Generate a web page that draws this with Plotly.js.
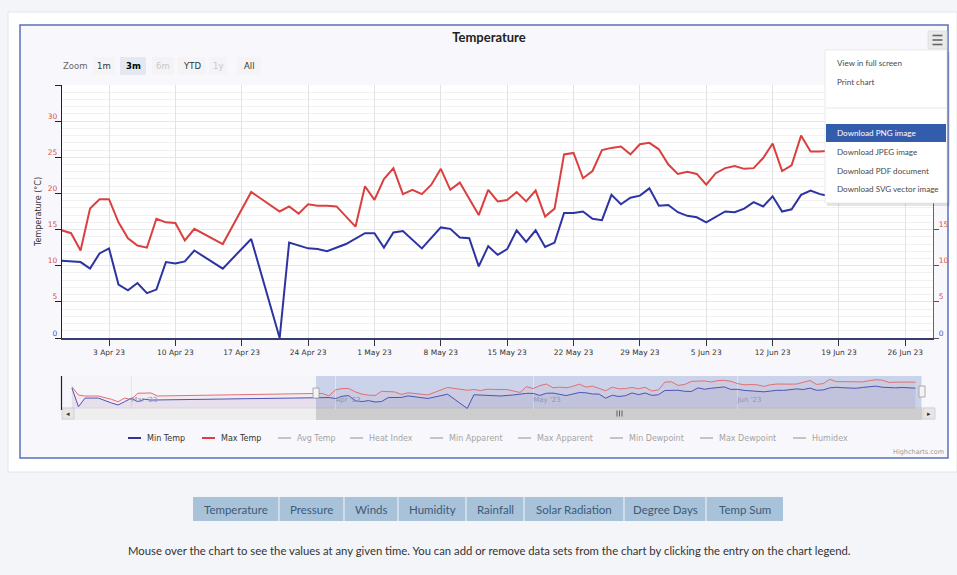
<!DOCTYPE html>
<html>
<head>
<meta charset="utf-8">
<script src="https://cdn.plot.ly/plotly-3.0.1.min.js"></script>
<style>
html,body{margin:0;padding:0;background:#f3f5f8;}
#chart{width:957px;height:575px;}
</style>
</head>
<body>
<div id="chart"></div>
<script>
// ---------------- DATA ----------------
const year = '2023-';
// Main chart: Min Temp (vertices)
const minDates = ['03-29','03-30','03-31','04-01','04-02','04-03','04-04','04-05','04-06','04-07','04-08','04-09','04-10','04-11','04-12','04-15','04-18','04-21','04-22','04-24','04-25','04-26','04-28','04-30','05-01','05-02','05-03','05-04','05-06','05-08','05-09','05-10','05-11','05-12','05-13','05-14','05-15','05-16','05-17','05-18','05-19','05-20','05-21','05-22','05-23','05-24','05-25','05-26','05-27','05-28','05-29','05-30','05-31','06-01','06-02','06-03','06-04','06-05','06-06','06-07','06-08','06-09','06-10','06-11','06-12','06-13','06-14','06-15','06-16','06-17','06-18','06-19','06-20','06-21','06-22','06-23','06-24','06-25','06-26','06-27','06-28'];
const minTemp = [10.7,10.6,10.5,9.6,11.7,12.4,7.4,6.6,7.6,6.2,6.7,10.5,10.3,10.6,12.1,9.6,13.7,0.0,13.2,12.4,12.3,12.0,13.0,14.5,14.5,12.5,14.6,14.8,12.4,15.3,15.1,13.9,13.8,9.9,12.7,11.5,12.3,14.9,13.3,14.9,12.6,13.2,17.3,17.3,17.5,16.5,16.3,19.8,18.5,19.4,19.7,20.7,18.3,18.4,17.4,16.9,16.7,16.0,16.7,17.5,17.4,17.9,18.8,18.2,19.6,17.5,17.8,19.8,20.4,19.9,19.6,19.4,20.2,21.0,21.5,20.4,20.0,19.8,20.2,19.6,19.5];
// Main chart: Max Temp
const maxDates = ['03-29','03-30','03-31','04-01','04-02','04-03','04-04','04-05','04-06','04-07','04-08','04-09','04-10','04-11','04-12','04-15','04-18','04-21','04-22','04-23','04-24','04-25','04-26','04-27','04-29','04-30','05-01','05-02','05-03','05-04','05-05','05-06','05-07','05-08','05-09','05-10','05-12','05-13','05-14','05-15','05-16','05-17','05-18','05-19','05-20','05-21','05-22','05-23','05-24','05-25','05-26','05-27','05-28','05-29','05-30','05-31','06-01','06-02','06-03','06-04','06-05','06-06','06-07','06-08','06-09','06-10','06-11','06-12','06-13','06-14','06-15','06-16','06-17','06-18','06-19','06-20','06-21','06-22','06-23','06-24','06-25','06-26','06-27','06-28'];
const maxTemp = [14.9,14.5,12.1,17.9,19.2,19.2,16.0,13.8,12.8,12.5,16.5,16.0,15.9,13.5,15.1,13.0,20.2,17.5,18.2,17.2,18.5,18.3,18.3,18.2,15.4,21.0,19.1,22.0,23.5,19.9,20.5,19.9,21.2,23.4,20.5,21.5,17.0,20.5,18.9,19.1,20.2,18.9,20.4,16.8,17.9,25.4,25.6,22.1,23.1,26.0,26.3,26.5,25.4,26.8,27.0,26.1,24.0,22.7,23.0,22.7,21.2,22.8,23.5,23.8,23.4,23.5,24.9,26.9,23.1,23.9,28.0,25.8,25.8,25.9,26.0,25.5,26.8,27.6,27.2,25.0,25.3,25.6,25.4,25.2];
// Navigator: earlier data (before the zoomed range)
const navEarlyMinDates = ['02-20','02-21','02-22','02-24','02-26','02-27','02-28','03-01','03-02','03-03','03-04'];
const navEarlyMin = [19.7,1.7,10.0,10.0,5.3,3.4,6.5,9.8,6.5,8.8,8.1];
const navEarlyMaxDates = ['02-20','02-21','02-22','02-24','02-26','02-27','02-28','03-01','03-02','03-03','03-04','03-05'];
const navEarlyMax = [20.9,12.9,12.0,12.0,8.8,6.5,10.0,8.6,14.6,15.1,14.9,12.0];
// Text content
const yTickVals = [0,5,10,15,20,25,30,35];
const legendNames = ['Min Temp','Max Temp','Avg Temp','Heat Index','Min Apparent','Max Apparent','Min Dewpoint','Max Dewpoint','Humidex'];
const rangeLabels = ['1m','3m','6m','YTD','1y','All'];
const menuItems = ['View in full screen','Print chart','Download PNG image','Download JPEG image','Download PDF document','Download SVG vector image'];
const tabLabels = ['Temperature','Pressure','Winds','Humidity','Rainfall','Solar Radiation','Degree Days','Temp Sum'];

// ---------------- LAYOUT HELPERS ----------------
const W = 957, H = 575;
const px = x => x / W;
const py = y => 1 - y / H;
const full = arr => arr.map(s => year + s);
const mainRange = ['2023-03-29 01:00', '2023-06-28 22:00'];
const navRange = ['2023-02-18 12:00', '2023-06-29 00:00'];
const BLUE = '#2e33a3', RED = '#d9403f';

function rect(x0,y0,x1,y1,fill,line,lw,layer){
  return {type:'rect', xref:'paper', yref:'paper', x0:px(x0), x1:px(x1), y0:py(y1), y1:py(y0),
    fillcolor:fill, line:{color:line||'rgba(0,0,0,0)', width: lw||0}, layer: layer||'below'};
}
function hline(x0,x1,y,color,w,layer){
  return {type:'line', xref:'paper', yref:'paper', x0:px(x0), x1:px(x1), y0:py(y), y1:py(y),
    line:{color:color, width:w}, layer: layer||'above'};
}
function vline(x,y0,y1,color,w,layer){
  return {type:'line', xref:'paper', yref:'paper', x0:px(x), x1:px(x), y0:py(y0), y1:py(y1),
    line:{color:color, width:w}, layer: layer||'above'};
}
function txt(text,x,y,opts){
  return Object.assign({text:text, xref:'paper', yref:'paper', x:px(x), y:py(y), showarrow:false,
    xanchor:'center', yanchor:'middle', font:{family:'DejaVu Sans, sans-serif', size:8, color:'#333'}}, opts||{});
}

const labelFor = v => v === 0 ? '<span style="color:#4856b8">0</span>' : String(v);
const yTickText = yTickVals.map(v => v === 35 ? '' : labelFor(v));
// right axis: labels 20+ are hidden behind the export menu in the reference
const yTickTextRight = yTickVals.map(v => v >= 20 ? '' : labelFor(v));

// ---------------- TRACES ----------------
const traces = [
  {type:'scatter', mode:'lines', name:'Min Temp', x: full(minDates), y: minTemp, xaxis:'x', yaxis:'y',
   line:{color:BLUE, width:2}, hoverinfo:'skip'},
  {type:'scatter', mode:'lines', name:'Max Temp', x: full(maxDates), y: maxTemp, xaxis:'x', yaxis:'y',
   line:{color:RED, width:2}, hoverinfo:'skip'},
  {type:'scatter', mode:'lines', name:'Min Temp nav', x: full(navEarlyMinDates.concat(minDates)), y: navEarlyMin.concat(minTemp),
   xaxis:'x2', yaxis:'y2', line:{color:'#4254bd', width:1}, fill:'tozeroy', fillcolor:'rgba(70,80,190,0.07)', hoverinfo:'skip'},
  {type:'scatter', mode:'lines', name:'Max Temp nav', x: full(navEarlyMaxDates.concat(maxDates)), y: navEarlyMax.concat(maxTemp),
   xaxis:'x2', yaxis:'y2', line:{color:'#e07074', width:1}, fill:'tozeroy', fillcolor:'rgba(220,90,110,0.06)', hoverinfo:'skip'},
  {type:'scatter', mode:'lines', x: full(maxDates), y: maxTemp, xaxis:'x', yaxis:'y3', line:{width:0, color:'rgba(0,0,0,0)'},
   hoverinfo:'skip', showlegend:false}
];

// ---------------- SHAPES ----------------
const shapes = [
  rect(8,12,957,472,'#ffffff','#e2e5ea',1),
  rect(20,25,948,458,'#f8f8fc','#5b70b5',1.5),
  rect(62,85,933,338,'#ffffff'),
  rect(62,376,922,407,'#f5f5fa'),
  {type:'rect', xref:'x2', yref:'paper', x0:mainRange[0], x1:mainRange[1], y0:py(407), y1:py(376),
   fillcolor:'rgba(102,133,194,0.30)', line:{width:0}, layer:'below'},
  rect(62,407,935,420,'#eeeeee'),
  rect(316,407,922,420,'#cdcdcd'),
  rect(62,408,74,419,'#e6e6e6','#cccccc',0.8),
  rect(923,408,935,419,'#e6e6e6','#cccccc',0.8),
  vline(617,410.5,416.5,'#444',0.8), vline(619.5,410.5,416.5,'#444',0.8), vline(622,410.5,416.5,'#444',0.8),
  vline(61.5,376,410,'#222',1.2),
  rect(313,388,319,398,'#f4f4f4','#999999',0.8,'above'),
  rect(919,386,925,397,'#f4f4f4','#999999',0.8,'above'),
  // bottom tabs bar
  rect(193,497,783,521,'#a8c2da')
];
[279,344,398,466,524,624,706].forEach(x => shapes.push(vline(x,497,521,'#e8eef4',1.2)));

// range selector buttons
const rsCenters = [104,133,163,191.5,218,249];
const rsWidths = [22,26,22,28,18,24];
rangeLabels.forEach((l,i) => {
  shapes.push(rect(rsCenters[i]-rsWidths[i]/2, 57, rsCenters[i]+rsWidths[i]/2, 75, i===1 ? '#e3e8f3' : '#f4f4f7'));
});

// legend symbols
const legendX = [128,202,278,350,430,518,610,700,793];
legendNames.forEach((n,i) => {
  const c = i===0 ? BLUE : (i===1 ? RED : '#c4c4c4');
  shapes.push(hline(legendX[i], legendX[i]+13, 438, c, 2));
});

// hamburger button
shapes.push(rect(928,31,947,49,'#eaeaea','#d8d8d8',0.6,'above'));
[35.5,40,44.5].forEach(y => shapes.push(hline(932.5,942.5,y,'#666',1.6)));

// export menu
shapes.push(rect(827,52,950,206,'rgba(0,0,0,0.10)',null,0,'above'));
shapes.push(rect(825,50,947,203,'#ffffff','#dddddd',0.6,'above'));
shapes.push(hline(826,946,108,'#e2e2e2',0.8));
shapes.push(rect(826,124,946,142,'#335cad',null,0,'above'));

// ---------------- ANNOTATIONS ----------------
const annotations = [];
annotations.push(txt('Zoom', 75, 66, {font:{family:'DejaVu Sans, sans-serif', size:8.5, color:'#666'}}));
rangeLabels.forEach((l,i) => {
  const disabled = (l==='6m' || l==='1y');
  annotations.push(txt(i===1 ? '<b>'+l+'</b>' : l, rsCenters[i], 66,
    {font:{family:'DejaVu Sans, sans-serif', size:8.5, color: disabled ? '#c8c8c8' : (i===1 ? '#000' : '#333')}}));
});
legendNames.forEach((n,i) => {
  annotations.push(txt(n, legendX[i]+17, 438, {xanchor:'left',
    font:{family:'DejaVu Sans, sans-serif', size:8, color: i<2 ? '#333' : '#a4a4a4'}}));
});
const menuY = [63,82,133,152,171,189];
menuItems.forEach((m,i) => {
  annotations.push(txt(m, 835, menuY[i], {xanchor:'left',
    font:{family:'Lato, sans-serif', size:8.1, color: i===2 ? '#ffffff' : '#4a4a4a'}}));
});
annotations.push(txt('Highcharts.com', 946, 452, {xanchor:'right', font:{family:'DejaVu Sans, sans-serif', size:6.5, color:'#999'}}));
annotations.push(txt('\u25C2', 68, 413.5, {font:{family:'DejaVu Sans', size:7, color:'#333'}}));
annotations.push(txt('\u25B8', 929, 413.5, {font:{family:'DejaVu Sans', size:7, color:'#333'}}));
const tabCenters = [236,311.5,371,432,495,574,665,744.5];
tabLabels.forEach((t,i) => {
  annotations.push(txt(t, tabCenters[i], 509, {font:{family:'Lato, sans-serif', size:11.5, color:'#3d5a78'}}));
});
annotations.push(txt('Mouse over the chart to see the values at any given time. You can add or remove data sets from the chart by clicking the entry on the chart legend.',
  489, 550, {font:{family:'Lato, sans-serif', size:11.3, color:'#333'}}));

// ---------------- LAYOUT ----------------
const layout = {
  width: W, height: H, margin:{l:0,r:0,t:0,b:0,pad:0},
  paper_bgcolor:'#f3f5f8', plot_bgcolor:'rgba(0,0,0,0)',
  showlegend:false,
  font:{family:'DejaVu Sans, sans-serif', size:8, color:'#333'},
  title:{text:'<b>Temperature</b>', x:px(489), xanchor:'center', y:py(37), yanchor:'middle',
         font:{family:'Lato, sans-serif', size:13, color:'#222'}},
  xaxis:{domain:[px(62),px(933)], anchor:'y', type:'date', range:mainRange,
    tick0:'2023-04-03', dtick:7*86400000, tickformat:'%-d %b %y',
    ticks:'outside', ticklen:6, tickcolor:'#333', tickwidth:1,
    showline:true, linecolor:'#363e6e', linewidth:1.5,
    showgrid:true, gridcolor:'#e3e3e3', zeroline:false,
    tickfont:{family:'DejaVu Sans, sans-serif', size:7.5, color:'#333'}, fixedrange:true},
  yaxis:{domain:[py(338),py(85)], anchor:'x', range:[0,35],
    tickmode:'array', tickvals:yTickVals, ticktext:yTickText,
    ticks:'outside', ticklen:6, tickcolor:'#222', tickwidth:1,
    showline:true, linecolor:'#222', linewidth:1.2,
    showgrid:true, gridcolor:'#e6e6e6', zeroline:false,
    minor:{tickmode:'linear', tick0:0, dtick:1, showgrid:true, gridcolor:'#f1f1f1', ticks:''},
    tickfont:{family:'DejaVu Sans, sans-serif', size:7.5, color:'#d9534f'},
    ticklabelshift:-5, ticklabelstandoff:-4,
    title:{text:'Temperature (°C)', standoff:5, font:{family:'DejaVu Sans, sans-serif', size:8, color:'#333'}},
    fixedrange:true},
  yaxis3:{overlaying:'y', side:'right', anchor:'x', range:[0,35],
    tickmode:'array', tickvals:yTickVals, ticktext:yTickTextRight,
    ticks:'outside', ticklen:5, tickcolor:'#555', tickwidth:1,
    showline:true, linecolor:'#666', linewidth:1.2,
    showgrid:false, zeroline:false,
    tickfont:{family:'DejaVu Sans, sans-serif', size:7.5, color:'#d9534f'},
    ticklabelshift:-5, ticklabelstandoff:-2, fixedrange:true},
  xaxis2:{domain:[px(62),px(922)], anchor:'y2', type:'date', range:navRange,
    tick0:'2023-01-01', dtick:'M1', tickformat:"%b '%y", ticklabelposition:'inside right',
    ticks:'', showline:false, showgrid:true, gridcolor:'#e4e4ec', zeroline:false,
    tickfont:{family:'DejaVu Sans, sans-serif', size:7, color:'#8e96b4'}, fixedrange:true},
  yaxis2:{domain:[py(409),py(376)], anchor:'x2', range:[-0.5,31.2], visible:false, fixedrange:true},
  shapes: shapes,
  annotations: annotations
};

Plotly.newPlot('chart', traces, layout, {displayModeBar:false, staticPlot:true});
</script>
</body>
</html>
